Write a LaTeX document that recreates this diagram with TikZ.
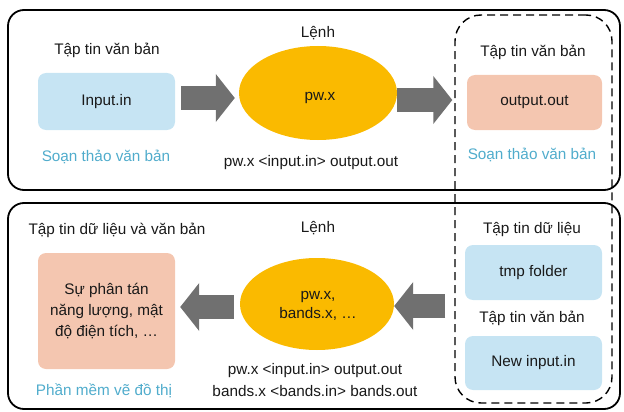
\documentclass[tikz,border=0pt]{standalone}
\usepackage{fontspec}
\setmainfont{Liberation Sans}
\usetikzlibrary{arrows.meta,shapes.geometric}
\definecolor{boxblue}{RGB}{198,228,243}
\definecolor{boxsalmon}{RGB}{244,198,176}
\definecolor{ellorange}{RGB}{250,186,0}
\definecolor{arrowgray}{RGB}{112,112,112}
\definecolor{txtblue}{RGB}{80,172,204}
\definecolor{txtdark}{RGB}{25,25,25}
\tikzset{
  panel/.style={draw=black, line width=1.8pt, rounded corners=16pt},
  groupbox/.style={draw=black, line width=1.4pt, dash pattern=on 8pt off 5pt, rounded corners=26pt},
  filebox/.style={rounded corners=8pt, inner sep=0pt, align=center, text=txtdark},
  bluebox/.style={filebox, fill=boxblue},
  salmonbox/.style={filebox, fill=boxsalmon},
  cmdell/.style={ellipse, fill=ellorange, inner sep=0pt, align=center, text=txtdark},
  lbl/.style={text=txtdark, align=center, inner sep=0pt},
  bluelbl/.style={text=txtblue, inner sep=0pt},
  fatarrow/.style={draw=arrowgray, line width=24pt, line cap=butt, -{Triangle[length=19pt,width=47pt]}}
}
\begin{document}
\begin{tikzpicture}[x=1pt,y=-1pt, font=\fontsize{15.3}{19}\selectfont]
\useasboundingbox (0,0) rectangle (624,412);
% panels
\node[panel, minimum width=612pt, minimum height=180pt, inner sep=0pt] (top) at (314,100) {};
\node[panel, minimum width=612pt, minimum height=206pt, inner sep=0pt] (bot) at (314,306) {};
\node[groupbox, minimum width=157pt, minimum height=388pt, inner sep=0pt] (grp) at (533.5,209) {};

% top row
\node[lbl] (t1) at (107,50) {Tập tin văn bản};
\node[bluebox, minimum width=137pt, minimum height=57pt] (in) at (106.5,101.5) {Input.in};
\node[bluelbl] (s1) at (106,157) {Soạn thảo văn bản};
\node[lbl] (l1) at (318,33) {Lệnh};
\node[cmdell, minimum width=158pt, minimum height=94pt] (cmd1) at (318,93) {};
\node[lbl] at (320,98) {pw.x};
\node[lbl] (c1) at (311,163) {pw.x <input.in> output.out};
\node[lbl] (t2) at (533,52) {Tập tin văn bản};
\node[salmonbox, minimum width=135pt, minimum height=55pt] (out) at (534.5,102.5) {output.out};
\node[bluelbl] (s2) at (532,155) {Soạn thảo văn bản};

\draw[fatarrow, shorten <=6pt, shorten >=4pt] (in.east |- 0,98) -- (cmd1.west |- 0,98);
\draw[fatarrow, shorten <=0pt, shorten >=2pt] (cmd1.east |- 0,100) -- (grp.west |- 0,100);

% bottom row
\node[lbl] (t3) at (117,230) {Tập tin dữ liệu và văn bản};
\node[salmonbox, minimum width=137pt, minimum height=116pt] (res) at (106.5,311) {Sự phân tán\\[2pt]năng lượng, mật\\[2pt]độ điện tích, \ldots};
\node[bluelbl] (s3) at (104,391) {Phần mềm vẽ đồ thị};
\node[lbl] (l2) at (318,228) {Lệnh};
\node[cmdell, minimum width=154pt, minimum height=92pt] (cmd2) at (317,304) {};
\node[lbl] at (318,306) {pw.x,\\bands.x, \ldots};
\node[lbl] (c2) at (315,380) {pw.x <input.in> output.out\\[3pt]bands.x <bands.in> bands.out};
\node[lbl] (t4) at (532,230) {Tập tin dữ liệu};
\node[bluebox, minimum width=137pt, minimum height=55pt] (tmp) at (533.5,272.5) {tmp folder};
\node[lbl] (t5) at (532,318) {Tập tin văn bản};
\node[bluebox, minimum width=137pt, minimum height=54pt] (newin) at (533.5,363) {New input.in};

\draw[fatarrow, shorten <=6pt, shorten >=5pt] (cmd2.west |- 0,307) -- (res.east |- 0,307);
\draw[fatarrow, shorten <=9pt, shorten >=0pt] (grp.west |- 0,306) -- (cmd2.east |- 0,306);
\end{tikzpicture}
\end{document}
